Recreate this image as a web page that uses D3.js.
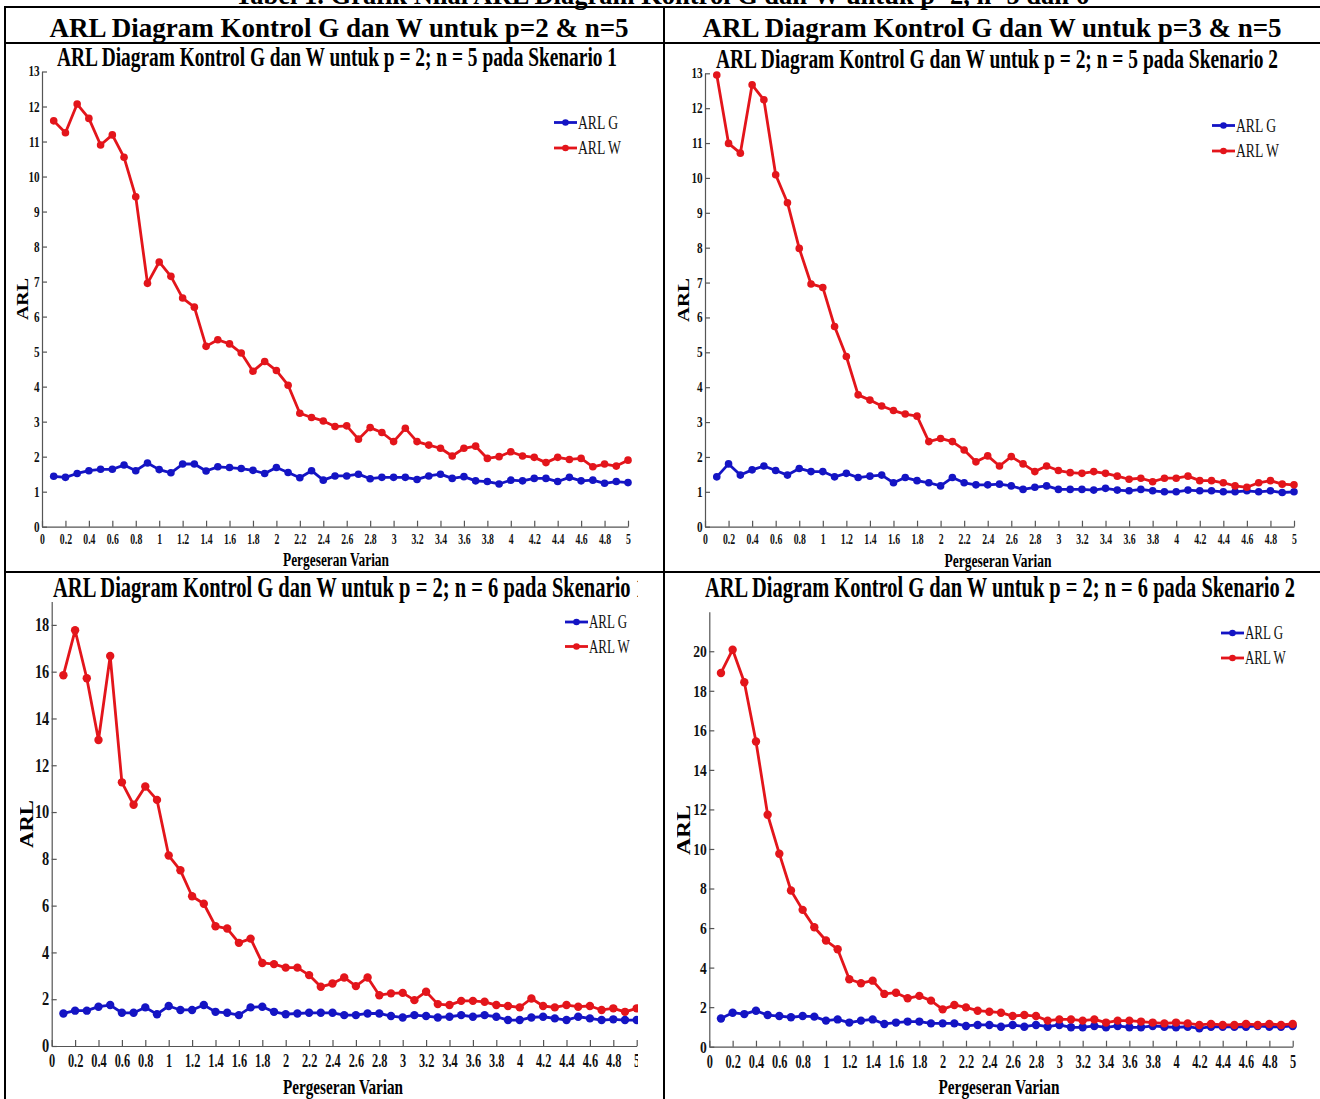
<!DOCTYPE html>
<html>
<head>
<meta charset="utf-8">
<script src="https://cdn.jsdelivr.net/npm/d3@7"></script>
<style>
  body { margin: 0; background: #fff; }
  svg { display: block; }
</style>
</head>
<body>
<div id="chart"></div>
<script>
'use strict';

// ---- data ----
const shifts = [0.1, 0.2, 0.3, 0.4, 0.5, 0.6, 0.7, 0.8, 0.9, 1.0,
                1.1, 1.2, 1.3, 1.4, 1.5, 1.6, 1.7, 1.8, 1.9, 2.0,
                2.1, 2.2, 2.3, 2.4, 2.5, 2.6, 2.7, 2.8, 2.9, 3.0,
                3.1, 3.2, 3.3, 3.4, 3.5, 3.6, 3.7, 3.8, 3.9, 4.0,
                4.1, 4.2, 4.3, 4.4, 4.5, 4.6, 4.7, 4.8, 4.9, 5.0];

const xTickValues = [0, 0.2, 0.4, 0.6, 0.8, 1, 1.2, 1.4, 1.6, 1.8, 2, 2.2, 2.4,
                     2.6, 2.8, 3, 3.2, 3.4, 3.6, 3.8, 4, 4.2, 4.4, 4.6, 4.8, 5];
const yTicks13 = [0, 1, 2, 3, 4, 5, 6, 7, 8, 9, 10, 11, 12, 13];
const yTicks18 = [0, 2, 4, 6, 8, 10, 12, 14, 16, 18];
const yTicks20 = [0, 2, 4, 6, 8, 10, 12, 14, 16, 18, 20];

const seriesNames = ['ARL G', 'ARL W'];
const tableTitle = 'Tabel 1. Grafik Nilai ARL Diagram Kontrol G dan W untuk p=2, n=5 dan 6';
const headerTitles = ['ARL Diagram Kontrol G dan W untuk p=2 & n=5',
                      'ARL Diagram Kontrol G dan W untuk p=3 & n=5'];
const panelTitles = ['ARL Diagram Kontrol G dan W untuk p = 2; n = 5 pada Skenario 1',
                     'ARL Diagram Kontrol G dan W untuk p = 2; n = 5 pada Skenario 2',
                     'ARL Diagram Kontrol G dan W untuk p = 2; n = 6 pada Skenario 1',
                     'ARL Diagram Kontrol G dan W untuk p = 2; n = 6 pada Skenario 2'];
const xLabel = 'Pergeseran Varian';
const yLabel = 'ARL';

const arlG_n5_s1 = [1.44, 1.41, 1.52, 1.60, 1.64, 1.64, 1.76, 1.60, 1.82, 1.63,
                    1.54, 1.79, 1.79, 1.59, 1.71, 1.69, 1.66, 1.61, 1.52, 1.69,
                    1.55, 1.40, 1.60, 1.33, 1.45, 1.45, 1.50, 1.37, 1.41, 1.41,
                    1.41, 1.35, 1.45, 1.50, 1.38, 1.43, 1.31, 1.29, 1.22, 1.33,
                    1.31, 1.38, 1.38, 1.29, 1.41, 1.31, 1.33, 1.24, 1.29, 1.26];
const arlW_n5_s1 = [11.59, 11.25, 12.07, 11.66, 10.90, 11.19, 10.55, 9.42, 6.95, 7.56,
                    7.15, 6.53, 6.27, 5.15, 5.34, 5.22, 4.96, 4.44, 4.72, 4.46,
                    4.04, 3.24, 3.12, 3.02, 2.86, 2.88, 2.50, 2.83, 2.69, 2.43,
                    2.81, 2.43, 2.33, 2.24, 2.02, 2.24, 2.30, 1.95, 2.00, 2.14,
                    2.02, 1.98, 1.83, 1.98, 1.92, 1.95, 1.71, 1.79, 1.73, 1.90];

const arlG_n5_s2 = [1.43, 1.80, 1.48, 1.63, 1.74, 1.61, 1.48, 1.67, 1.58, 1.58,
                    1.43, 1.53, 1.41, 1.45, 1.48, 1.26, 1.41, 1.32, 1.26, 1.17,
                    1.41, 1.26, 1.20, 1.20, 1.22, 1.17, 1.07, 1.13, 1.17, 1.07,
                    1.07, 1.07, 1.05, 1.10, 1.05, 1.03, 1.07, 1.03, 1.00, 1.00,
                    1.05, 1.03, 1.03, 1.00, 1.00, 1.03, 1.00, 1.03, 0.98, 1.00];
const arlW_n5_s2 = [12.95, 10.99, 10.71, 12.67, 12.24, 10.09, 9.29, 7.98, 6.96, 6.86,
                    5.74, 4.88, 3.78, 3.63, 3.46, 3.33, 3.23, 3.17, 2.44, 2.53,
                    2.44, 2.20, 1.86, 2.03, 1.74, 2.01, 1.80, 1.58, 1.74, 1.61,
                    1.55, 1.53, 1.58, 1.53, 1.45, 1.36, 1.39, 1.29, 1.39, 1.39,
                    1.45, 1.32, 1.32, 1.26, 1.17, 1.13, 1.26, 1.32, 1.22, 1.20];

const arlG_n6_s1 = [1.39, 1.51, 1.51, 1.68, 1.75, 1.42, 1.42, 1.65, 1.36, 1.71,
                    1.54, 1.54, 1.75, 1.46, 1.42, 1.32, 1.65, 1.68, 1.46, 1.36,
                    1.39, 1.42, 1.42, 1.42, 1.32, 1.32, 1.39, 1.39, 1.28, 1.22,
                    1.32, 1.28, 1.22, 1.25, 1.32, 1.25, 1.32, 1.25, 1.11, 1.11,
                    1.22, 1.25, 1.18, 1.11, 1.25, 1.18, 1.11, 1.14, 1.11, 1.11];
const arlW_n6_s1 = [15.85, 17.77, 15.72, 13.08, 16.67, 11.27, 10.31, 11.09, 10.52, 8.14,
                    7.51, 6.40, 6.08, 5.12, 5.02, 4.41, 4.59, 3.55, 3.50, 3.35,
                    3.35, 3.03, 2.53, 2.67, 2.93, 2.56, 2.93, 2.17, 2.25, 2.27,
                    1.96, 2.32, 1.79, 1.75, 1.93, 1.93, 1.89, 1.75, 1.71, 1.65,
                    2.03, 1.71, 1.65, 1.75, 1.68, 1.71, 1.54, 1.61, 1.46, 1.61];

const arlG_n6_s2 = [1.43, 1.72, 1.65, 1.82, 1.60, 1.55, 1.49, 1.55, 1.52, 1.32,
                    1.38, 1.22, 1.32, 1.38, 1.15, 1.22, 1.27, 1.27, 1.18, 1.18,
                    1.18, 1.05, 1.10, 1.10, 1.01, 1.10, 1.01, 1.10, 1.01, 1.10,
                    0.98, 0.98, 1.05, 0.98, 1.05, 0.98, 0.98, 1.05, 1.01, 0.98,
                    1.01, 0.93, 1.01, 1.01, 1.01, 1.01, 1.05, 1.01, 1.01, 1.05];
const arlW_n6_s2 = [18.90, 20.08, 18.43, 15.44, 11.73, 9.76, 7.90, 6.92, 6.04, 5.37,
                    4.93, 3.41, 3.21, 3.34, 2.67, 2.73, 2.45, 2.57, 2.33, 1.89,
                    2.11, 1.99, 1.82, 1.77, 1.72, 1.55, 1.60, 1.55, 1.32, 1.38,
                    1.38, 1.32, 1.38, 1.22, 1.32, 1.32, 1.27, 1.22, 1.18, 1.22,
                    1.18, 1.10, 1.15, 1.10, 1.10, 1.15, 1.10, 1.15, 1.10, 1.15];

// ---- layout ----
const W = 1320, H = 1099;
const serif = '"Liberation Serif", "Times New Roman", serif';
const colG = '#1414c4', colW = '#e3151b';

const panels = [
  { title: panelTitles[0], g: arlG_n5_s1, w: arlW_n5_s1, yMax: 13, yTicks: yTicks13,
    clip: [12, 44, 629, 527], x0: 42, x1: 628, yB: 526.7, yT: 71.5,
    title_x: 57, title_w: 560, title_y: 66, title_fs: 28,
    tick_fs: 15, ytick_fs: 14, xPad: 7, yPad: 3, r: 3.8, lw: 2.8,
    legX: 554, legY: 122.5, legGap: 25.5, leg_fs: 19,
    yl_x: 22, yl_y: 299, yl_len: 42, yl_fs: 17,
    xl_cx: 336, xl_y: 566, xl_len: 106, xl_fs: 18 },
  { title: panelTitles[1], g: arlG_n5_s2, w: arlW_n5_s2, yMax: 13, yTicks: yTicks13,
    clip: [666, 44, 654, 527], x0: 705, x1: 1294, yB: 526.7, yT: 73.3,
    title_x: 716, title_w: 562, title_y: 68, title_fs: 28,
    tick_fs: 15, ytick_fs: 14, xPad: 7, yPad: 3, r: 3.8, lw: 2.8,
    legX: 1212, legY: 125.5, legGap: 25.5, leg_fs: 19,
    yl_x: 683, yl_y: 300, yl_len: 44, yl_fs: 17,
    xl_cx: 998, xl_y: 567, xl_len: 107, xl_fs: 18 },
  { title: panelTitles[2], g: arlG_n6_s1, w: arlW_n6_s1, yMax: 19, yTicks: yTicks18,
    clip: [20, 573, 618, 526], x0: 51.7, x1: 636.7, yB: 1046, yT: 601.5,
    title_x: 53, title_w: 593, title_y: 597, title_fs: 30,
    tick_fs: 19, ytick_fs: 18, xPad: 8, yPad: 3, r: 4.2, lw: 2.8,
    legX: 565, legY: 622, legGap: 24.5, leg_fs: 18,
    yl_x: 27, yl_y: 824, yl_len: 48, yl_fs: 19,
    xl_cx: 343, xl_y: 1094, xl_len: 120, xl_fs: 22 },
  { title: panelTitles[3], g: arlG_n6_s2, w: arlW_n6_s2, yMax: 22, yTicks: yTicks20,
    clip: [677, 573, 620, 526], x0: 709.3, x1: 1292.7, yB: 1046.7, yT: 611.7,
    title_x: 705, title_w: 590, title_y: 597, title_fs: 30,
    tick_fs: 19, ytick_fs: 17, xPad: 8, yPad: 3, r: 4.2, lw: 2.8,
    legX: 1221, legY: 633, legGap: 25, leg_fs: 18,
    yl_x: 684, yl_y: 830, yl_len: 50, yl_fs: 19,
    xl_cx: 999, xl_y: 1094, xl_len: 121, xl_fs: 22 }
];

const svg = d3.select('#chart').append('svg')
  .attr('width', W).attr('height', H)
  .attr('font-family', serif);

svg.append('rect').attr('width', W).attr('height', H).attr('fill', '#fff');

// table title (cut off at the top edge) and header row
svg.append('text')
  .attr('x', 662).attr('y', 4)
  .attr('text-anchor', 'middle')
  .attr('font-size', 26.5).attr('font-weight', 'bold')
  .text(tableTitle);

svg.append('text')
  .attr('x', 339).attr('y', 37)
  .attr('text-anchor', 'middle')
  .attr('font-size', 27).attr('font-weight', 'bold')
  .text(headerTitles[0]);

svg.append('text')
  .attr('x', 992).attr('y', 37)
  .attr('text-anchor', 'middle')
  .attr('font-size', 27).attr('font-weight', 'bold')
  .text(headerTitles[1]);

// table rules
const rules = svg.append('g').attr('stroke', '#000').attr('stroke-width', 2);
rules.append('line').attr('x1', 5).attr('x2', W).attr('y1', 7).attr('y2', 7);
rules.append('line').attr('x1', 5).attr('x2', W).attr('y1', 43).attr('y2', 43);
rules.append('line').attr('x1', 5).attr('x2', W).attr('y1', 572).attr('y2', 572);
rules.append('line').attr('x1', 5).attr('x2', 5).attr('y1', 6).attr('y2', H);
rules.append('line').attr('x1', 664).attr('x2', 664).attr('y1', 6).attr('y2', H);

const defs = svg.append('defs');

panels.forEach((p, pi) => {
  const [cx, cy, cw, ch] = p.clip;
  defs.append('clipPath').attr('id', 'clip' + pi)
    .append('rect').attr('x', cx).attr('y', cy).attr('width', cw).attr('height', ch);

  const plot = svg.append('g').attr('clip-path', `url(#clip${pi})`);
  plot.append('rect').attr('x', cx).attr('y', cy).attr('width', cw).attr('height', ch)
    .attr('fill', '#fff');

  const x = d3.scaleLinear().domain([0, 5]).range([p.x0, p.x1]);
  const y = d3.scaleLinear().domain([0, p.yMax]).range([p.yB, p.yT]);

  // title, squeezed like the stretched figure image
  plot.append('text')
    .attr('x', p.title_x).attr('y', p.title_y)
    .attr('font-size', p.title_fs).attr('font-weight', 'bold')
    .attr('textLength', p.title_w).attr('lengthAdjust', 'spacingAndGlyphs')
    .text(p.title);

  // axes with inward ticks
  const gx = plot.append('g')
    .attr('transform', `translate(0,${p.yB})`)
    .call(d3.axisBottom(x).tickValues(xTickValues).tickSize(-6).tickSizeOuter(0)
      .tickPadding(p.xPad).tickFormat(d3.format('~g')));
  const gy = plot.append('g')
    .attr('transform', `translate(${p.x0},0)`)
    .call(d3.axisLeft(y).tickValues(p.yTicks).tickSize(-5).tickSizeOuter(0)
      .tickPadding(p.yPad));

  [gx, gy].forEach(ax => {
    ax.attr('font-family', serif);
    ax.select('.domain').attr('stroke', '#555').attr('stroke-width', 1.2);
    ax.selectAll('.tick line').attr('stroke', '#555').attr('stroke-width', 1.2);
    ax.selectAll('.tick text').attr('fill', '#111').attr('font-weight', 'bold');
  });
  gx.selectAll('.tick text').attr('font-size', p.tick_fs).attr('transform', 'scale(0.65,1)');
  gy.selectAll('.tick text').attr('font-size', p.ytick_fs).attr('transform', 'scale(0.8,1)');

  // axis labels
  plot.append('text')
    .attr('transform', `translate(${p.yl_x + p.yl_fs * 0.33},${p.yl_y}) rotate(-90)`)
    .attr('text-anchor', 'middle')
    .attr('font-size', p.yl_fs).attr('font-weight', 'bold')
    .attr('textLength', p.yl_len).attr('lengthAdjust', 'spacingAndGlyphs')
    .text(yLabel);

  plot.append('text')
    .attr('x', p.xl_cx - p.xl_len / 2).attr('y', p.xl_y)
    .attr('font-size', p.xl_fs).attr('font-weight', 'bold')
    .attr('textLength', p.xl_len).attr('lengthAdjust', 'spacingAndGlyphs')
    .text(xLabel);

  // series: G first, W drawn over it
  const line = d3.line().x((d, i) => x(shifts[i])).y(d => y(d));
  [[p.g, colG], [p.w, colW]].forEach(([vals, col]) => {
    plot.append('path').datum(vals)
      .attr('fill', 'none').attr('stroke', col)
      .attr('stroke-width', p.lw).attr('stroke-linejoin', 'round')
      .attr('d', line);
    plot.append('g').selectAll('circle').data(vals).enter().append('circle')
      .attr('cx', (d, i) => x(shifts[i]))
      .attr('cy', d => y(d))
      .attr('r', p.r)
      .attr('fill', col);
  });

  // legend
  const leg = plot.append('g');
  [colG, colW].forEach((col, i) => {
    const ly = p.legY + i * p.legGap;
    leg.append('line')
      .attr('x1', p.legX).attr('x2', p.legX + 23)
      .attr('y1', ly).attr('y2', ly)
      .attr('stroke', col).attr('stroke-width', 2.8);
    leg.append('circle')
      .attr('cx', p.legX + 11.5).attr('cy', ly).attr('r', 3.3)
      .attr('fill', col);
    leg.append('text')
      .attr('transform', `translate(${p.legX + 24},${ly + p.leg_fs * 0.34}) scale(0.72,1)`)
      .attr('font-size', p.leg_fs)
      .attr('fill', '#111')
      .text(seriesNames[i]);
  });
});
</script>
</body>
</html>
